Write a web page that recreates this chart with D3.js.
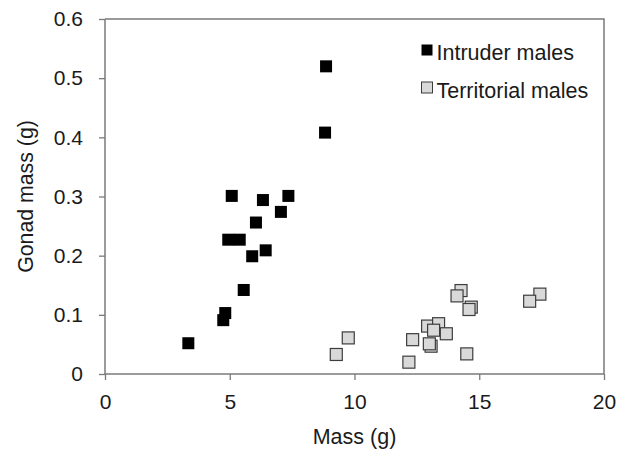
<!DOCTYPE html>
<html>
<head>
<meta charset="utf-8">
<script src="https://cdn.jsdelivr.net/npm/d3@7"></script>
<style>
  body { margin: 0; background: #fff; }
  svg text { font-family: "Liberation Sans", Arial, sans-serif; fill: #1a1a1a; }
</style>
</head>
<body>
<svg id="chart" width="626" height="452"></svg>
<script>
// values
var intruderMass  = [8.86, 8.82, 5.08, 6.33, 7.35, 7.05, 6.05, 4.94, 5.40, 6.44, 5.90, 5.56, 4.82, 4.74, 3.34];
var intruderGonad = [0.520, 0.408, 0.301, 0.294, 0.301, 0.274, 0.256, 0.227, 0.227, 0.209, 0.199, 0.142, 0.103, 0.091, 0.052];

var territorialMass  = [9.75, 9.27, 12.33, 12.18, 12.93, 13.37, 13.17, 13.68, 13.07, 13.00, 14.27, 14.11, 14.68, 14.59, 14.50, 17.43, 17.02];
var territorialGonad = [0.061, 0.033, 0.058, 0.020, 0.081, 0.085, 0.074, 0.068, 0.047, 0.051, 0.141, 0.132, 0.113, 0.109, 0.034, 0.135, 0.123];

var xTicks = [0, 5, 10, 15, 20];
var yTicks = [0, 0.1, 0.2, 0.3, 0.4, 0.5, 0.6];
var legendLabels = ["Intruder males", "Territorial males"];

var margin = { top: 19, right: 22, bottom: 78, left: 105 },
    width = 626 - margin.left - margin.right,
    height = 452 - margin.top - margin.bottom,
    sq = 12,
    axisColor = "#7a7a7a"

var svg = d3.select("#chart")
var g = svg.append("g")
    .attr("transform", "translate(" + margin.left + "," + margin.top + ")")

var x = d3.scaleLinear().domain([0, 20]).range([0, width])
var y = d3.scaleLinear().domain([0, 0.6]).range([height, 0])

var xAxis = d3.axisBottom(x).tickValues(xTicks).tickSize(6).tickPadding(14).tickFormat(d3.format("d"))
var yAxis = d3.axisLeft(y).tickValues(yTicks).tickSize(6).tickPadding(16).tickFormat(function(d) { return d === 0 ? "0" : d3.format(".1f")(d) })

// frame (top + right)
g.append("path")
    .attr("d", "M0,0H" + width + "V" + height)
    .attr("fill", "none")
    .attr("stroke", axisColor)
    .attr("stroke-width", 1.5)

var gx = g.append("g")
    .attr("transform", "translate(0," + height + ")")
    .call(xAxis)
var gy = g.append("g").call(yAxis)

;[gx, gy].forEach(function(a) {
    a.select(".domain").attr("stroke", axisColor).attr("stroke-width", 1.5)
    a.selectAll(".tick line").attr("stroke", axisColor).attr("stroke-width", 1.3)
    a.selectAll(".tick text").attr("font-size", "21px").attr("font-family", "Liberation Sans, Arial, sans-serif").attr("fill", "#1a1a1a")
})
gx.select(".domain").attr("d", "M0,0H" + width)
gy.select(".domain").attr("d", "M0," + height + "V0")

// points
var territorial = territorialMass.map(function(m, i) { return { mass: m, gonad: territorialGonad[i] } })
var intruder = intruderMass.map(function(m, i) { return { mass: m, gonad: intruderGonad[i] } })

g.selectAll(".terr")
    .data(territorial)
    .enter().append("rect")
    .attr("class", "terr")
    .attr("x", function(d) { return x(d.mass) - sq / 2 })
    .attr("y", function(d) { return y(d.gonad) - sq / 2 })
    .attr("width", sq)
    .attr("height", sq)
    .attr("fill", "#d9d9d9")
    .attr("stroke", "#3d3d3d")
    .attr("stroke-width", 1.2)

g.selectAll(".intr")
    .data(intruder)
    .enter().append("rect")
    .attr("class", "intr")
    .attr("x", function(d) { return x(d.mass) - sq / 2 })
    .attr("y", function(d) { return y(d.gonad) - sq / 2 })
    .attr("width", sq)
    .attr("height", sq)
    .attr("fill", "#000")

// axis titles
svg.append("text")
    .attr("x", margin.left + width / 2)
    .attr("y", 444)
    .attr("text-anchor", "middle")
    .attr("font-size", "21.5px")
    .text("Mass (g)")

svg.append("text")
    .attr("transform", "translate(33," + (margin.top + height / 2) + ") rotate(-90)")
    .attr("text-anchor", "middle")
    .attr("font-size", "21.3px")
    .text("Gonad mass (g)")

// legend
var legend = svg.append("g").attr("transform", "translate(427,50)")
var legendFill = ["#000", "#d9d9d9"]
legendLabels.forEach(function(label, i) {
    var row = legend.append("g").attr("transform", "translate(0," + (37.5 * i) + ")")
    row.append("rect")
        .attr("x", -5.5).attr("y", -5.5)
        .attr("width", 11).attr("height", 11)
        .attr("fill", legendFill[i])
        .attr("stroke", i ? "#3d3d3d" : "none")
        .attr("stroke-width", 1)
    row.append("text")
        .attr("x", 9.5)
        .attr("y", 10)
        .attr("font-size", "21.5px")
        .text(label)
})
</script>
</body>
</html>
